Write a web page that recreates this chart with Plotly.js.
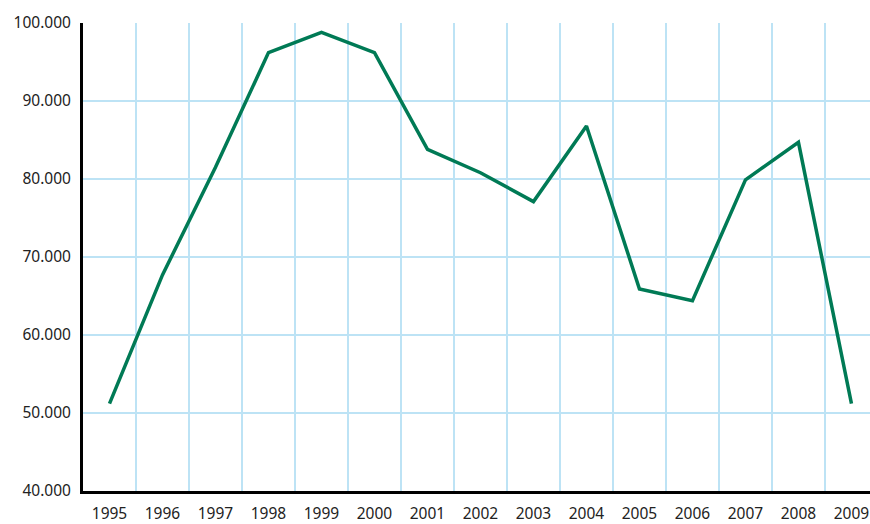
<!DOCTYPE html>
<html>
<head>
<meta charset="utf-8">
<script src="https://cdn.plot.ly/plotly-3.0.1.min.js"></script>
<style>html,body{margin:0;padding:0;background:#fff;}#chart{width:870px;height:524px;}</style>
</head>
<body>
<div id="chart"></div>
<script>
var years = ["1995","1996","1997","1998","1999","2000","2001","2002","2003","2004","2005","2006","2007","2008","2009"];
var values = [51200, 67700, 81500, 96200, 98800, 96200, 83800, 80800, 77100, 86800, 65900, 64400, 79900, 84700, 51200];

var trace = {
  x: years,
  y: values,
  type: "scatter",
  mode: "lines",
  line: {color: "#007a55", width: 3.5},
  hoverinfo: "none"
};

var layout = {
  width: 870,
  height: 524,
  margin: {l: 83, r: 0, t: 23, b: 33},
  paper_bgcolor: "#ffffff",
  plot_bgcolor: "#ffffff",
  separators: ",.",
  showlegend: false,
  font: {family: "Noto Sans, DejaVu Sans, sans-serif", size: 15.5, color: "#222222"},
  xaxis: {
    type: "category",
    range: [-0.5, 14.35],
    tickson: "boundaries",
    showgrid: true,
    gridcolor: "#bde3f5",
    gridwidth: 1.5,
    showline: true,
    linecolor: "#000000",
    linewidth: 3,
    ticks: "",
    ticklen: 0,
    ticklabelstandoff: 6,
    zeroline: false,
    fixedrange: true
  },
  yaxis: {
    range: [40000, 100000],
    dtick: 10000,
    tick0: 40000,
    tickformat: ",d",
    showgrid: true,
    gridcolor: "#bde3f5",
    gridwidth: 1.5,
    showline: true,
    linecolor: "#000000",
    linewidth: 3,
    ticks: "",
    ticklabelstandoff: 6,
    zeroline: false,
    fixedrange: true
  }
};

Plotly.newPlot("chart", [trace], layout, {staticPlot: true, displayModeBar: false});
</script>
</body>
</html>
